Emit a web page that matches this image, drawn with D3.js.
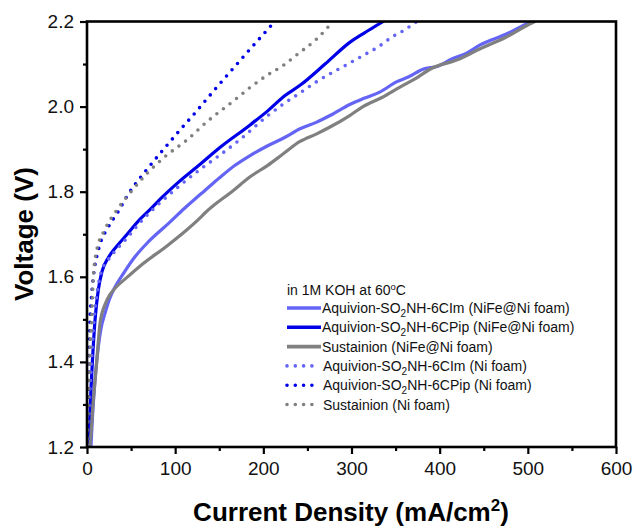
<!DOCTYPE html>
<html>
<head>
<meta charset="utf-8">
<script src="https://cdn.jsdelivr.net/npm/d3@7"></script>
<style>
  html, body { margin: 0; padding: 0; background: #fff; }
  svg { display: block; font-family: Arial, "Liberation Sans", sans-serif; }
</style>
</head>
<body>
<svg id="chart" width="636" height="527"></svg>
<script>
// ---------- data (current density mA/cm2, voltage V) ----------
const imNiFeJ = [4.5, 6, 9.1, 12.8, 16, 20.4, 25, 31.8, 42, 54.4, 70, 92.2, 110, 122.5, 133.8, 150, 167.9, 185, 205, 224.6, 241.6, 260, 275.6, 298, 315, 332, 351, 365, 381, 398, 415, 430, 446, 475, 502, 506];
const imNiFeV = [1.20, 1.263, 1.357, 1.435, 1.48, 1.514, 1.545, 1.576, 1.61, 1.647, 1.683, 1.725, 1.76, 1.783, 1.803, 1.832, 1.862, 1.885, 1.908, 1.928, 1.948, 1.963, 1.979, 2.005, 2.02, 2.034, 2.058, 2.07, 2.088, 2.095, 2.113, 2.125, 2.145, 2.17, 2.197, 2.2];

const pipNiFeJ = [2.3, 3.4, 6, 9.1, 12.8, 17, 24.2, 33, 43, 60, 73.4, 84.7, 103.5, 128, 149, 185, 205, 224.6, 241.6, 270, 298, 320, 336];
const pipNiFeV = [1.21, 1.28, 1.396, 1.498, 1.569, 1.612, 1.645, 1.67, 1.694, 1.735, 1.762, 1.786, 1.822, 1.864, 1.901, 1.957, 1.99, 2.026, 2.05, 2.1, 2.151, 2.18, 2.2];

const susNiFeJ = [3, 4.2, 7.2, 11, 14.7, 20.4, 26, 31.8, 45, 60, 92.2, 113, 128, 133.8, 166, 185, 205, 222.6, 241.6, 260.5, 275.6, 298, 313, 335, 355, 372, 390, 420, 446, 475, 502, 508];
const susNiFeV = [1.20, 1.224, 1.31, 1.40, 1.49, 1.535, 1.558, 1.573, 1.598, 1.625, 1.675, 1.71, 1.738, 1.75, 1.803, 1.835, 1.862, 1.889, 1.918, 1.936, 1.952, 1.979, 2.0, 2.022, 2.046, 2.065, 2.089, 2.11, 2.136, 2.163, 2.194, 2.2];

const imNiJ = [1.5, 2.5, 5, 8, 12, 16, 24, 33, 45, 60, 85, 104, 128, 150, 175, 204, 222, 241.6, 260, 279, 296, 313, 330, 347, 360, 374];
const imNiV = [1.20, 1.28, 1.396, 1.498, 1.57, 1.61, 1.64, 1.663, 1.69, 1.727, 1.778, 1.812, 1.852, 1.885, 1.925, 1.977, 2.005, 2.032, 2.058, 2.081, 2.1, 2.12, 2.14, 2.165, 2.18, 2.2];

const pipNiJ = [0.8, 1.5, 2.3, 3.4, 5, 7.2, 12.8, 24.2, 35, 47, 63.9, 85, 105.5, 122.5, 147, 185, 213];
const pipNiV = [1.20, 1.28, 1.389, 1.498, 1.55, 1.60, 1.662, 1.717, 1.752, 1.795, 1.842, 1.895, 1.945, 1.985, 2.045, 2.135, 2.2];

const susNiJ = [0.3, 0.5, 1.5, 3.4, 5.3, 7.2, 11, 20, 35, 50, 67.7, 90, 113, 135.8, 166, 185, 203.8, 222.6, 240, 260.5, 279];
const susNiV = [1.20, 1.224, 1.31, 1.428, 1.506, 1.60, 1.662, 1.71, 1.76, 1.80, 1.842, 1.885, 1.921, 1.964, 2.013, 2.045, 2.073, 2.097, 2.125, 2.159, 2.2];

const seriesNames = [
  ["Aquivion-SO", "2", "NH-6CIm (NiFe@Ni foam)"],
  ["Aquivion-SO", "2", "NH-6CPip (NiFe@Ni foam)"],
  ["Sustainion (NiFe@Ni foam)", "", ""],
  ["Aquivion-SO", "2", "NH-6CIm (Ni foam)"],
  ["Aquivion-SO", "2", "NH-6CPip (Ni foam)"],
  ["Sustainion (Ni foam)", "", ""]
];
const seriesColors = ["#6464f5", "#0000e8", "#808080", "#6464f5", "#0000e8", "#808080"];
const seriesDotted = [false, false, false, true, true, true];
const seriesJ = [imNiFeJ, pipNiFeJ, susNiFeJ, imNiJ, pipNiJ, susNiJ];
const seriesV = [imNiFeV, pipNiFeV, susNiFeV, imNiV, pipNiV, susNiV];

const xTicks = [0, 100, 200, 300, 400, 500, 600];
const xMinor = [50, 150, 250, 350, 450, 550];
const yTicks = [1.2, 1.4, 1.6, 1.8, 2.0, 2.2];
const yMinor = [1.3, 1.5, 1.7, 1.9, 2.1];

// ---------- layout ----------
const svg = d3.select("#chart");
const L = 87, R = 616, T = 21.5, B = 447;
const x = d3.scaleLinear().domain([0, 600]).range([L, R]);
const y = d3.scaleLinear().domain([1.2, 2.2]).range([B, T]);
const font = 'Arial, "Liberation Sans", sans-serif';

svg.append("defs").append("clipPath").attr("id", "clip")
  .append("rect").attr("x", L).attr("y", T).attr("width", R - L).attr("height", B - T);

// ---------- curves ----------
const line = d3.line().x(d => x(d[0])).y(d => y(d[1])).curve(d3.curveMonotoneX);
const plot = svg.append("g").attr("clip-path", "url(#clip)");
seriesJ.forEach((js, i) => {
  const pts = js.map((j, k) => [j, seriesV[i][k]]);
  const p = plot.append("path").datum(pts)
    .attr("d", line)
    .attr("fill", "none")
    .attr("stroke", seriesColors[i])
    .attr("stroke-linejoin", "round");
  if (seriesDotted[i]) {
    p.attr("stroke-width", 3.6).attr("stroke-dasharray", "0 8.3").attr("stroke-linecap", "round");
  } else {
    p.attr("stroke-width", 3.2).attr("stroke-linecap", "round");
  }
});

// ---------- axes ----------
const xAxis = d3.axisBottom(x).tickValues(xTicks).tickSize(7).tickPadding(8).tickFormat(d3.format("d"));
const xAxisMinor = d3.axisBottom(x).tickValues(xMinor).tickSize(4).tickFormat("");
const yAxis = d3.axisLeft(y).tickValues(yTicks).tickSize(7).tickPadding(6).tickFormat(d3.format(".1f"));
const yAxisMinor = d3.axisLeft(y).tickValues(yMinor).tickSize(4).tickFormat("");

function styleAxis(g) {
  g.select(".domain").remove();
  g.selectAll("line").attr("stroke", "#000").attr("stroke-width", 2.2);
  g.selectAll("text").attr("fill", "#111").style("font-family", font).style("font-size", "19px");
}
svg.append("g").attr("transform", `translate(0,${B})`).call(xAxis).call(styleAxis);
svg.append("g").attr("transform", `translate(0,${B})`).call(xAxisMinor).call(styleAxis);
svg.append("g").attr("transform", `translate(${L},0)`).call(yAxis).call(styleAxis);
svg.append("g").attr("transform", `translate(${L},0)`).call(yAxisMinor).call(styleAxis);

// frame
svg.append("rect").attr("x", L).attr("y", T).attr("width", R - L).attr("height", B - T)
  .attr("fill", "none").attr("stroke", "#000").attr("stroke-width", 2.6);

// ---------- axis titles ----------
svg.append("text")
  .attr("transform", "translate(33,234) rotate(-90)")
  .attr("text-anchor", "middle")
  .style("font-family", font).style("font-size", "26px").style("font-weight", "bold")
  .text("Voltage (V)");

const xt = svg.append("text")
  .attr("x", 351).attr("y", 521)
  .attr("text-anchor", "middle")
  .style("font-family", font).style("font-size", "26px").style("font-weight", "bold");
xt.append("tspan").text("Current Density (mA/cm");
xt.append("tspan").attr("dy", -10).style("font-size", "17px").text("2");
xt.append("tspan").attr("dy", 10).text(")");

// ---------- legend ----------
const lg = svg.append("g").style("font-family", font).style("font-size", "14px").attr("fill", "#111");
const lt = lg.append("text").attr("x", 287).attr("y", 294.5);
lt.append("tspan").text("in 1M KOH at 60");
lt.append("tspan").attr("dy", -5).style("font-size", "9.5px").text("o");
lt.append("tspan").attr("dy", 5).text("C");

seriesNames.forEach((nm, i) => {
  const cy = 308 + i * 19.3;
  const ln = lg.append("line").attr("y1", cy).attr("y2", cy).attr("stroke", seriesColors[i]);
  let tx;
  if (seriesDotted[i]) {
    ln.attr("x1", 287).attr("x2", 313).attr("stroke-width", 3.6)
      .attr("stroke-dasharray", "0 8.3").attr("stroke-linecap", "round");
    tx = 323;
  } else {
    ln.attr("x1", 287).attr("x2", 321).attr("stroke-width", 3.6);
    tx = 322;
  }
  const t = lg.append("text").attr("x", tx).attr("y", cy + 5);
  t.append("tspan").text(nm[0]);
  if (nm[1]) {
    t.append("tspan").attr("dy", 4).style("font-size", "10px").text(nm[1]);
    t.append("tspan").attr("dy", -4).text(nm[2]);
  }
});
</script>
</body>
</html>
